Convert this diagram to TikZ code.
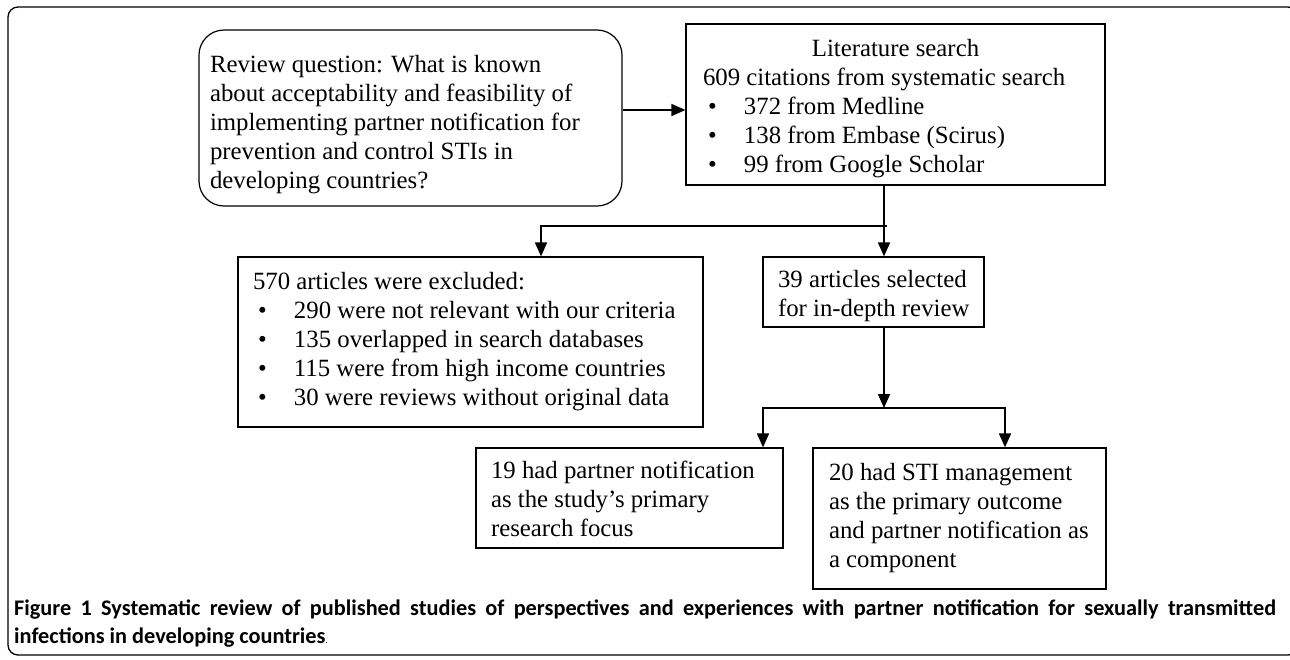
\documentclass[tikz,border=0pt]{standalone}
\usepackage{fontspec}
\setmainfont{Liberation Serif}
\newfontfamily\capfont{Carlito}
\usepackage{tikz}
\usetikzlibrary{shapes, arrows.meta, positioning}
\tikzstyle{block} = [draw, rectangle, line width=1.2pt, inner sep=0pt,
    font=\fontsize{24.8}{29}\selectfont]
\tikzstyle{roundblock} = [block, rounded corners=25pt]
\tikzstyle{wire} = [line width=1.7pt]
\tikzstyle{link} = [wire, -{Triangle[length=14pt,width=12pt]}]
\newcommand{\boxlines}[3][0pt]{\raisebox{-#1}[\height][\depth]{\makebox[#2][l]{\begin{tabular}{@{}l@{}}#3\end{tabular}}}}
\newcommand{\bul}{\hspace*{5pt}\makebox[36pt][l]{\textbullet}}

\begin{document}
\begin{tikzpicture}[x=1pt, y=-1pt]
    \useasboundingbox (0,0) rectangle (1290,659);
    \draw[line width=1.3pt, rounded corners=10pt] (8,7) rectangle (1298,655);

        \node[roundblock, minimum width=423pt, minimum height=176pt] at (410.5,118) (question)
            {\boxlines[7pt]{401pt}{Review question: What is known\\ about acceptability and feasibility of\\
            implementing partner notification for\\ prevention and control STIs in\\ developing countries?}};
        \node[block, minimum width=419pt, minimum height=161pt] at (895.5,104.5) (search)
            {\boxlines[4pt]{385pt}{\makebox[385pt]{Literature search}\\ 609 citations from systematic search\\
            \bul 372 from Medline\\ \bul 138 from Embase (Scirus)\\ \bul 99 from Google Scholar}};
        \node[block, minimum width=465pt, minimum height=170pt] at (470.5,342) (excluded)
            {\boxlines{435pt}{570 articles were excluded:\\ \bul 290 were not relevant with our criteria\\
            \bul 135 overlapped in search databases\\ \bul 115 were from high income countries\\
            \bul 30 were reviews without original data}};
        \node[block, minimum width=221pt, minimum height=70pt] at (873.5,292) (selected)
            {\boxlines[4pt]{191pt}{39 articles selected\\ for in-depth review}};
        \node[block, minimum width=307pt, minimum height=100pt] at (629.5,498) (notification)
            {\boxlines[4pt]{277pt}{19 had partner notification\\ as the study’s primary\\ research focus}};
        \node[block, minimum width=293pt, minimum height=141pt] at (959.5,518.5) (management)
            {\boxlines{261pt}{20 had STI management\\ as the primary outcome\\ and partner notification as\\ a component}};

        \coordinate (split) at (884,226);
        \coordinate (merge) at (884,408);

            \draw[link] (question.east |- 0,110) -- (search.west |- 0,110);
            \draw[wire] ([xshift=-11.5pt]search.south) -- (split);
            \draw[link] (split) -- ([xshift=10.5pt]selected.north);
            \draw[link] ([xshift=3pt]split) -| ([xshift=70.5pt]excluded.north);
            \draw[link] ([xshift=10.5pt]selected.south) -- (merge);
            \draw[link] (merge) -| ([xshift=133.5pt]notification.north);
            \draw[link] (merge) -| ([xshift=45.5pt]management.north);

        \node[anchor=north west, text width=1262pt, align=justify, inner sep=0pt,
            font=\capfont\bfseries\fontsize{22.3}{27.5}\selectfont] at (14,600) (caption)
            {Figure 1 Systematic review of published studies of perspectives and experiences with partner notification for sexually transmitted\linebreak
            infections in developing countries{\mdseries\small .}};
\end{tikzpicture}
\end{document}
